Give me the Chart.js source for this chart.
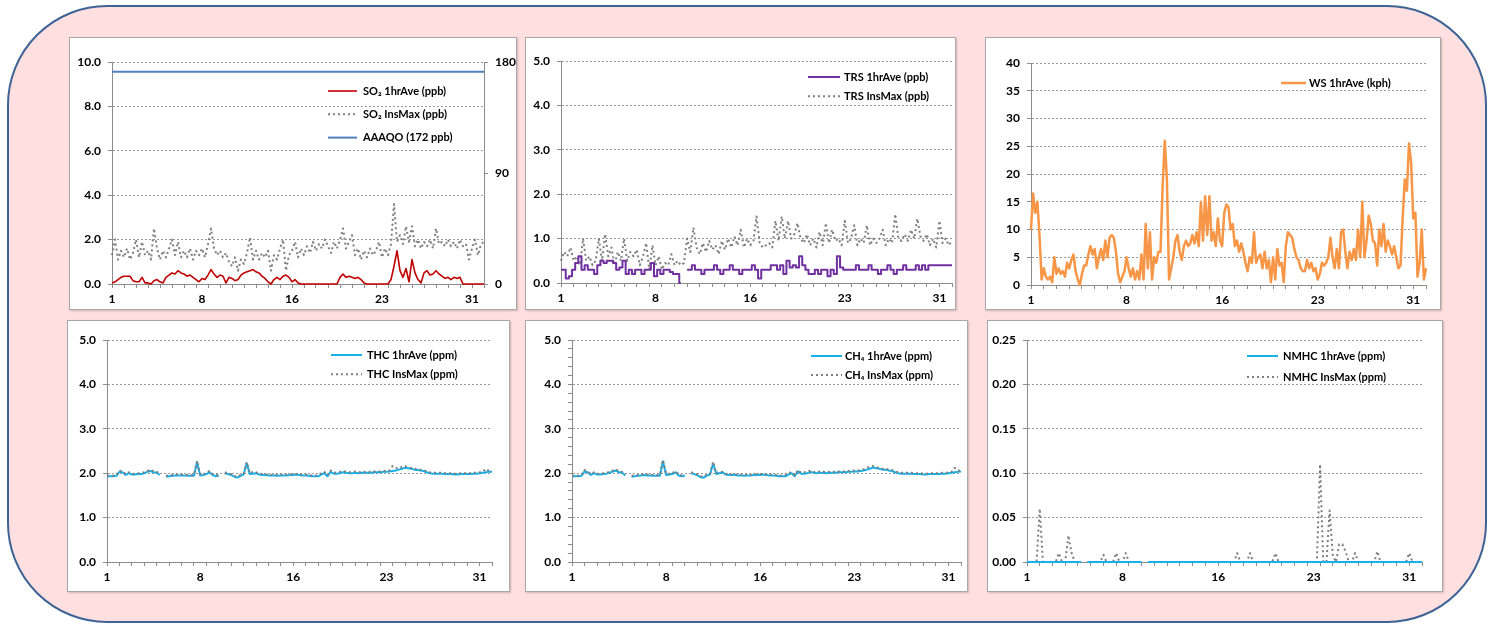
<!DOCTYPE html>
<html>
<head>
<meta charset="utf-8">
<script src="https://cdn.jsdelivr.net/npm/chart.js@4.4.1/dist/chart.umd.min.js"></script>
<style>
html, body { margin: 0; padding: 0; background: #fff; }
body { width: 1497px; height: 625px; position: relative; overflow: hidden; }
.frame { position: absolute; left: 7px; top: 5px; width: 1480px; height: 618px; box-sizing: border-box;
         border: 2.5px solid #3d6396; border-radius: 100px; background: #ffdfdf; }
.panel { position: absolute; background: #fff; border: 1px solid #a8a8a8; box-sizing: border-box;
         box-shadow: 1px 1px 2px rgba(0,0,0,0.2); }
.panel canvas { position: absolute; left: -1px; top: -1px; }
</style>
</head>
<body>
<div class="frame"></div>
<script>
// month of hourly data, day 1 at hour 0
const HOURS = 744;
const xLabelHours = [0, 180, 360, 540, 720];
const xLabels = ['1', '8', '16', '23', '31'];

// values every 6 h (4 per day) unless noted
const so2Ave = [
  0.05, 0.1, 0.2, 0.3,   0.35, 0.35, 0.35, 0.15,   0.1, 0.1, 0.3, 0.05,   0.05, 0, 0.15, 0.2,
  0.1, 0.05, 0.3, 0.4,   0.5, 0.45, 0.6, 0.5,      0.45, 0.35, 0.4, 0.3,  0.2, 0.1, 0.25, 0.2,
  0.4, 0.65, 0.45, 0.3,  0.4, 0.35, 0.05, 0.3,     0.25, 0.15, 0.2, 0.4,  0.5, 0.55, 0.6, 0.65,
  0.55, 0.5, 0.35, 0.25, 0.1, 0, 0.2, 0.3,         0.2, 0.35, 0.4, 0.3,   0.1, 0.2, 0.05, 0,
  0, 0, 0, 0,            0, 0, 0, 0,               0, 0, 0, 0,            0.3, 0.45, 0.3, 0.35,
  0.3, 0.25, 0.3, 0.2,   0.05, 0, 0, 0,            0, 0, 0, 0,            0, 0.2, 0.8, 1.5,
  0.6, 0.3, 0.7, 0.1,    1.1, 0.5, 0.2, 0.05,      0.5, 0.6, 0.4, 0.45,   0.6, 0.45, 0.35, 0.25,
  0.3, 0.2, 0.3, 0.25,   0.3, 0, 0, 0,             0, 0, 0, 0,            0
];
const so2Max = [
  1.3, 2.0, 1.1, 1.5,  1.2, 1.6, 1.1, 1.4,  2.0, 1.2, 1.9, 1.3,  1.5, 1.1, 2.5, 1.6,
  1.1, 1.5, 1.2, 1.6,  2.0, 1.3, 1.9, 1.2,  1.5, 1.2, 1.6, 1.1,  1.5, 1.3, 1.6, 1.2,
  1.8, 2.5, 1.6, 1.3,  1.5, 1.2, 1.4, 1.0,  0.8, 1.2, 0.6, 1.1,  0.9, 1.4, 2.1, 1.1,
  1.5, 1.1, 1.4, 1.2,  1.5, 0.6, 1.3, 1.1,  1.6, 2.0, 0.6, 1.3,  1.5, 1.9, 1.2, 1.6,
  1.3, 1.7, 1.4, 1.9,  1.5, 1.8, 1.6, 2.0,  1.7, 1.4, 1.9, 1.6,  2.0, 2.5, 1.6, 1.9,
  2.2, 1.3, 1.6, 1.1,  1.5, 1.2, 1.6, 1.3,  1.5, 1.9, 1.2, 1.6,  1.3, 1.8, 3.6, 1.9,
  2.2, 1.8, 2.6, 1.9,  2.6, 1.7, 2.0, 1.6,  1.9, 1.7, 2.0, 1.6,  2.5, 1.8, 1.9, 1.7,
  2.0, 1.7, 1.9, 1.6,  2.0, 1.7, 1.8, 1.1,  1.6, 2.0, 1.3, 1.8,  1.9
];
const aaaqoLimit = [172, 172]; // start and end of month

const trsAve = [
  0.3, 0.3, 0.1, 0.15,  0.3, 0.45, 0.6, 0.3,  0.4, 0.3, 0.3, 0.2,   0.4, 0.5, 0.45, 0.5,
  0.5, 0.45, 0.3, 0.35, 0.5, 0.2, 0.3, 0.2,   0.3, 0.3, 0.2, 0.3,   0.3, 0.45, 0.15, 0.3,
  0.2, 0.3, 0.3, 0.25,  0.2, 0.2, 0.0, null,  0.3, 0.3, 0.4, 0.3,   0.3, 0.2, 0.3, 0.3,
  0.3, 0.4, 0.3, 0.2,   0.3, 0.3, 0.4, 0.3,   0.3, 0.2, 0.3, 0.3,   0.3, 0.4, 0.3, 0.1,
  0.3, 0.3, 0.3, 0.4,   0.4, 0.3, 0.4, 0.2,   0.5, 0.35, 0.4, 0.35, 0.6, 0.4, 0.3, 0.2,
  0.2, 0.3, 0.2, 0.3,   0.3, 0.15, 0.3, 0.2,  0.6, 0.35, 0.3, 0.3,  0.3, 0.3, 0.4, 0.3,
  0.3, 0.3, 0.4, 0.3,   0.3, 0.2, 0.3, 0.3,   0.4, 0.3, 0.2, 0.3,   0.3, 0.4, 0.3, 0.3,
  0.3, 0.4, 0.3, 0.4,   0.3, 0.4, 0.4, 0.4,   0.4, 0.4, 0.4, 0.4,   0.4
];
const trsMax = [
  0.5, 0.7, 0.6, 0.8,    0.5, 0.6, 0.4, 1.0,    0.5, 0.6, 0.4, 0.5,    1.0, 0.5, 1.1, 0.6,
  0.8, 0.4, 0.7, 0.5,    1.0, 0.5, 0.7, 0.6,    0.75, 0.4, 0.6, 0.9,   0.3, 0.85, 0.4, 0.6,
  0.3, 0.45, 0.4, 0.65,  0.4, 0.5, 0.4, 0.45,   1.0, 0.7, 1.25, 0.8,   0.65, 0.9, 0.7, 0.95,
  0.75, 0.85, 0.65, 0.95, 0.75, 1.0, 0.8, 1.05, 0.85, 1.2, 0.8, 1.0,   0.85, 0.95, 1.5, 0.9,
  0.8, 0.85, 0.9, 0.8,   1.4, 0.95, 1.5, 1.0,   1.4, 1.0, 1.1, 1.35,   1.0, 0.9, 1.1, 0.85,
  1.0, 0.8, 1.15, 0.85,  1.35, 0.9, 1.2, 0.95,  1.0, 0.85, 1.4, 0.9,   1.0, 1.3, 0.85, 1.0,
  0.9, 1.3, 0.85, 1.0,   0.9, 1.0, 1.2, 0.85,   1.0, 0.9, 1.55, 1.0,   0.95, 1.1, 0.95, 1.2,
  1.0, 1.45, 1.05, 0.95, 1.1, 0.85, 1.0, 0.8,   1.4, 0.9, 1.0, 0.85,   0.95
];

// wind speed every 4 h (6 per day)
const wsAve = [
  10, 16.5, 13, 15, 9, 1,      3, 1.5, 1, 1.5, 0.5, 5,     2, 3, 2, 2.5, 1.5, 4,
  3, 4.5, 5.5, 2.5, 1, 0,      2, 3.5, 3.5, 5.5, 7, 5.5,   6.5, 3, 5, 6.5, 4.5, 8,
  5, 8.5, 9, 8.5, 6, 2,        0.5, 1.5, 2.5, 5, 3, 1.5,   3, 1, 2.5, 1, 5.5, 1,
  11, 3, 9.5, 1, 5, 4,         6, 6, 18, 26, 19, 1,        3, 5, 8, 9, 6, 4.5,
  7, 8, 7, 7.5, 9, 7.5,        9.5, 7, 15, 8, 16, 9,       16, 8, 9.5, 7, 12, 8,
  7, 13, 14.5, 14, 10, 11,     7, 8, 6, 7.5, 6, 4,         2.5, 5, 4, 9.5, 4, 5,
  5.5, 3, 6, 3, 4.5, 0.5,      5, 1, 6.5, 3.5, 4, 0.5,     7, 9.5, 9, 8.5, 6.5, 5,
  4.5, 3, 2.5, 2.5, 4.5, 3,    4, 2.5, 3, 1, 2, 4,         3.5, 4, 5, 8.5, 5, 3,
  6.5, 3, 9.5, 10, 6, 3,       6, 4.5, 6.5, 4.5, 10, 5,    15, 5, 8, 12.5, 11, 8,
  7.5, 3.5, 10, 7, 11, 6,      8, 7, 5.5, 7, 5, 3,         3.5, 12, 19, 17, 25.5, 22,
  12, 13, 1.5, 4, 10, 1,       3
];

const thcAve = [
  1.93, 1.93, 1.93, 1.94,  2.03, 2.02, 1.96, 2.0,   1.97, 1.97, 1.98, 1.98,  2.0, 2.03, 2.05, 2.02,
  2.01, 1.96, null, 1.92,  1.93, 1.94, 1.95, 1.95,  1.95, 1.95, 1.94, 1.94,  1.94, 2.25, 1.95, 1.96,
  1.98, 2.02, 1.96, 1.93,  1.95, null, 2.0, 1.98,   1.96, 1.92, 1.9, 1.94,   1.97, 2.22, 1.98, 1.99,
  2.0, 1.97, 1.96, 1.96,   1.95, 1.95, 1.95, 1.94,  1.95, 1.95, 1.95, 1.96,  1.96, 1.97, 1.96, 1.95,
  1.95, 1.94, 1.93, 1.93,  1.93, 1.97, 2.0, 1.93,   2.03, 1.99, 1.99, 2.0,   2.02, 2.01, 2.0, 2.0,
  2.01, 2.0, 2.01, 2.01,   2.01, 2.01, 2.02, 2.02,  2.02, 2.03, 2.03, 2.04,  2.05, 2.06, 2.08, 2.1,
  2.12, 2.11, 2.1, 2.08,   2.07, 2.06, 2.05, 2.02,  2.0, 1.99, 1.99, 1.99,   1.99, 1.98, 1.98, 1.98,
  1.97, 1.97, 1.98, 1.98,  1.98, 1.98, 1.99, 1.99,  2.0, 2.01, 2.02, 2.03,   2.03
];
const thcMax = [
  1.94, 1.95, 1.94, 1.96,  2.06, 2.04, 1.98, 2.02,  1.99, 1.99, 2.0, 2.0,   2.02, 2.05, 2.08, 2.04,
  2.03, 1.98, null, 1.94,  1.95, 1.96, 1.97, 1.97,  1.97, 1.96, 1.96, 1.96,  1.96, 2.28, 1.97, 1.98,
  2.0, 2.05, 1.98, 1.95,   1.97, null, 2.02, 2.0,   1.98, 1.94, 1.92, 1.96,  1.99, 2.25, 2.0, 2.03,
  2.02, 1.99, 1.98, 1.97,  1.97, 1.96, 1.97, 1.96,  1.97, 1.96, 1.97, 1.97,  1.98, 1.98, 1.97, 1.97,
  1.97, 1.96, 1.95, 1.95,  1.95, 2.0, 2.03, 1.95,   2.06, 2.01, 2.02, 2.03,  2.05, 2.03, 2.02, 2.03,
  2.04, 2.02, 2.03, 2.03,  2.03, 2.03, 2.04, 2.04,  2.04, 2.05, 2.05, 2.06,  2.16, 2.12, 2.1, 2.14,
  2.16, 2.13, 2.12, 2.1,   2.09, 2.08, 2.07, 2.04,  2.02, 2.01, 2.01, 2.01,  2.01, 2.0, 2.0, 2.0,
  1.99, 1.99, 2.0, 2.0,    2.0, 2.0, 2.01, 2.01,    2.02, 2.03, 2.1, 2.05,   2.05
];

const ch4Ave = [
  1.93, 1.93, 1.93, 1.94,  2.04, 2.02, 1.96, 2.0,   1.97, 1.97, 1.98, 1.99,  2.01, 2.04, 2.06, 2.02,
  2.01, 1.95, null, 1.92,  1.93, 1.94, 1.95, 1.96,  1.95, 1.95, 1.94, 1.94,  1.94, 2.27, 1.96, 1.97,
  1.98, 2.02, 1.95, 1.93,  1.95, null, 2.0, 1.98,   1.95, 1.91, 1.9, 1.95,   1.97, 2.22, 1.98, 2.0,
  2.02, 1.97, 1.96, 1.96,  1.96, 1.95, 1.95, 1.94,  1.95, 1.95, 1.96, 1.96,  1.96, 1.97, 1.96, 1.95,
  1.95, 1.94, 1.93, 1.93,  1.93, 1.97, 2.0, 1.93,   2.04, 1.99, 1.99, 2.0,   2.03, 2.01, 2.0, 2.01,
  2.01, 2.0, 2.01, 2.01,   2.01, 2.02, 2.02, 2.02,  2.03, 2.03, 2.04, 2.04,  2.05, 2.06, 2.08, 2.1,
  2.13, 2.11, 2.1, 2.08,   2.08, 2.06, 2.05, 2.02,  2.0, 1.99, 1.99, 1.99,   1.99, 1.98, 1.98, 1.98,
  1.97, 1.97, 1.98, 1.98,  1.98, 1.98, 1.99, 1.99,  2.0, 2.01, 2.02, 2.03,   2.04
];
const ch4Max = [
  1.94, 1.95, 1.94, 1.96,  2.07, 2.04, 1.98, 2.02,  1.99, 1.99, 2.0, 2.01,  2.03, 2.06, 2.09, 2.04,
  2.03, 1.97, null, 1.94,  1.95, 1.96, 1.97, 1.98,  1.97, 1.96, 1.96, 1.96,  1.96, 2.3, 1.98, 1.99,
  2.0, 2.05, 1.97, 1.95,   1.97, null, 2.02, 2.0,   1.97, 1.93, 1.92, 1.97,  1.99, 2.26, 2.0, 2.04,
  2.03, 1.99, 1.98, 1.97,  1.98, 1.96, 1.97, 1.96,  1.97, 1.96, 1.98, 1.97,  1.98, 1.98, 1.97, 1.97,
  1.97, 1.96, 1.95, 1.95,  1.96, 2.01, 2.02, 1.95,  2.07, 2.01, 2.02, 2.03,  2.06, 2.03, 2.02, 2.04,
  2.04, 2.02, 2.03, 2.03,  2.03, 2.04, 2.04, 2.04,  2.05, 2.05, 2.06, 2.06,  2.07, 2.09, 2.12, 2.15,
  2.16, 2.13, 2.12, 2.1,   2.1, 2.08, 2.07, 2.04,   2.02, 2.01, 2.01, 2.01,  2.01, 2.0, 2.0, 2.0,
  1.99, 1.99, 2.0, 2.0,    2.0, 2.0, 2.01, 2.01,    2.02, 2.03, 2.12, 2.06,  2.05
];

const nmhcAve = [
  0, 0, 0, 0,  0, 0, 0, 0,  0, 0, 0, 0,  0, 0, 0, 0,  0, 0, null, 0,  0, 0, 0, 0,  0, 0, 0, 0,  0, 0, 0, 0,
  0, 0, 0, 0,  0, null, 0, 0,  0, 0, 0, 0,  0, 0, 0, 0,  0, 0, 0, 0,  0, 0, 0, 0,  0, 0, 0, 0,  0, 0, 0, 0,
  0, 0, 0, 0,  0, 0, 0, 0,  0, 0, 0, 0,  0, 0, 0, 0,  0, 0, 0, 0,  0, 0, 0, 0,  0, 0, 0, 0,  0, 0, 0, 0,
  0, 0, 0, 0,  0, 0, 0, 0,  0, 0, 0, 0,  0, 0, 0, 0,  0, 0, 0, 0,  0, 0, 0, 0,  0, 0, 0, 0,  0
];
const nmhcMax = [
  0, 0, 0, 0,  0.06, 0, 0, 0,  0, 0, 0.01, 0,  0, 0.03, 0.01, 0,  0, 0, null, 0,  0, 0, 0, 0,  0.008, 0, 0, 0,  0.01, 0, 0, 0.01,
  0, 0, 0, 0,  0, null, 0, 0,  0, 0, 0, 0,  0, 0, 0, 0,  0, 0, 0, 0,  0, 0, 0, 0,  0, 0, 0, 0,  0, 0, 0, 0,
  0, 0, 0.01, 0,  0, 0, 0.01, 0,  0, 0, 0, 0,  0, 0, 0.01, 0,  0, 0, 0, 0,  0, 0, 0, 0,  0, 0, 0, 0,  0.11, 0, 0, 0.058,
  0.008, 0, 0.02, 0.02,  0.012, 0, 0, 0.01,  0, 0, 0, 0,  0, 0, 0.012, 0,  0, 0, 0, 0,  0, 0, 0, 0,  0.01, 0, 0, 0,  0
];

const AXIS = '#8c8c8c';
const GRID = '#9a9a9a';
const FONT = 'Lato, "Open Sans", sans-serif';
const TICK_FONT = { family: FONT, size: 12, weight: 'bold' };
const DOTS = [2, 3];

const toPoints = (values, stepHours) => values.map((v, i) => ({ x: i * stepHours, y: v }));

let xTickHours = [];
for (let h = 0; h <= HOURS; h += 24) xTickHours.push(h);
xTickHours = xTickHours.concat(xLabelHours.filter(h => h % 24 !== 0)).sort((a, b) => a - b);

const legendPlugin = {
  id: 'panelLegend',
  afterDraw(chart, args, opts) {
    const ctx = chart.ctx;
    opts.items.forEach((idx, row) => {
      const ds = chart.data.datasets[idx];
      const y = opts.y + row * (opts.gap || 0);
      ctx.save();
      ctx.strokeStyle = ds.borderColor;
      ctx.lineWidth = ds.borderWidth;
      ctx.setLineDash(ds.borderDash || []);
      ctx.beginPath();
      ctx.moveTo(opts.x, y);
      ctx.lineTo(opts.x + opts.len, y);
      ctx.stroke();
      ctx.setLineDash([]);
      ctx.fillStyle = '#000';
      ctx.font = 'bold 11px ' + FONT;
      ctx.textBaseline = 'middle';
      ctx.fillText(ds.label, opts.x + opts.len + opts.textGap, y);
      ctx.restore();
    });
  }
};

function isMajor(v, step) {
  const r = v / step;
  return Math.abs(r - Math.round(r)) < 1e-6;
}

function makeChart(cfg) {
  const [left, top, w, h] = cfg.box;
  const panel = document.createElement('div');
  panel.className = 'panel';
  panel.style.left = left + 'px';
  panel.style.top = top + 'px';
  panel.style.width = w + 'px';
  panel.style.height = h + 'px';
  const canvas = document.createElement('canvas');
  canvas.width = w;
  canvas.height = h;
  panel.appendChild(canvas);
  document.body.appendChild(panel);

  const scales = {
    x: {
      type: 'linear', min: 0, max: HOURS,
      afterBuildTicks: s => { s.ticks = xTickHours.map(v => ({ value: v })); },
      afterFit: s => { s.height = cfg.plot.bottom; },
      grid: {
        drawOnChartArea: false, tickLength: 4,
        tickColor: c => (c.tick && c.tick.value % 24 === 0) ? AXIS : 'transparent'
      },
      border: { color: AXIS, width: 1 },
      ticks: {
        autoSkip: false, maxRotation: 0, padding: 4, color: '#000', font: TICK_FONT,
        callback: v => { const i = xLabelHours.indexOf(v); return i >= 0 ? xLabels[i] : ''; }
      }
    },
    y: {
      position: 'left', min: 0, max: cfg.yMax,
      afterBuildTicks: s => {
        const step = cfg.yMinor || cfg.yStep;
        const t = [];
        for (let k = 0; k <= Math.round(cfg.yMax / step); k++) t.push({ value: +(k * step).toFixed(4) });
        s.ticks = t;
      },
      afterFit: s => { s.width = cfg.plot.left; },
      grid: {
        color: c => (c.tick && isMajor(c.tick.value, cfg.yStep)) ? GRID : 'transparent',
        tickColor: AXIS, tickLength: 4, lineWidth: 1
      },
      border: { color: AXIS, width: 1, dash: [2, 2] },
      ticks: {
        autoSkip: false, padding: 7, color: '#000', font: TICK_FONT,
        callback: v => isMajor(v, cfg.yStep) ? v.toFixed(cfg.yDec) : ''
      }
    }
  };
  if (cfg.y2) {
    scales.y2 = {
      position: 'right', min: 0, max: cfg.y2.max,
      afterBuildTicks: s => { s.ticks = cfg.y2.ticks.map(v => ({ value: v })); },
      afterFit: s => { s.width = cfg.plot.right; },
      grid: { drawOnChartArea: false, tickColor: AXIS, tickLength: 4 },
      border: { color: AXIS, width: 1 },
      ticks: { autoSkip: false, padding: 7, color: '#000', font: TICK_FONT, callback: v => String(v) }
    };
  }

  return new Chart(canvas, {
    type: 'line',
    data: { datasets: cfg.datasets },
    options: {
      responsive: false, animation: false, events: [],
      layout: { padding: { left: 0, top: cfg.plot.top, right: cfg.y2 ? 0 : cfg.plot.right, bottom: 0 } },
      elements: { point: { radius: 0 }, line: { tension: 0, borderJoinStyle: 'round' } },
      plugins: { legend: { display: false }, tooltip: { enabled: false }, panelLegend: cfg.legend },
      scales: scales
    },
    plugins: [legendPlugin]
  });
}

const solid = (label, values, step, color, width, order, extra) => Object.assign({
  label, data: toPoints(values, step), borderColor: color, borderWidth: width,
  fill: false, order, yAxisID: 'y', clip: false
}, extra || {});
const dotted = (label, values, step, order) => ({
  label, data: toPoints(values, step), borderColor: '#7f7f7f', borderWidth: 2,
  borderDash: DOTS, fill: false, order, yAxisID: 'y', clip: false
});

makeChart({
  box: [69, 37, 448, 273], plot: { left: 43, top: 25, right: 33, bottom: 26 },
  yMax: 10, yStep: 2, yDec: 1, y2: { max: 180, ticks: [0, 90, 180] },
  datasets: [
    solid('SO\u2082 1hrAve (ppb)', so2Ave, 6, '#c00000', 1.6, 0),
    dotted('SO\u2082 InsMax (ppb)', so2Max, 6, 1),
    solid('AAAQO (172 ppb)', aaaqoLimit, HOURS, '#4f81bd', 2, 2, { yAxisID: 'y2' })
  ],
  legend: { items: [0, 1, 2], x: 259, y: 54, gap: 23.3, len: 29, textGap: 6 }
});

makeChart({
  box: [525, 37, 431, 273], plot: { left: 36, top: 24, right: 4, bottom: 27 },
  yMax: 5, yStep: 1, yDec: 1,
  datasets: [
    solid('TRS 1hrAve (ppb)', trsAve, 6, '#7030a0', 2, 0, { stepped: 'middle' }),
    dotted('TRS InsMax (ppb)', trsMax, 6, 1)
  ],
  legend: { items: [0, 1], x: 283, y: 40, gap: 19.3, len: 32, textGap: 4 }
});

makeChart({
  box: [985, 37, 456, 273], plot: { left: 46, top: 26, right: 15, bottom: 25 },
  yMax: 40, yStep: 5, yDec: 0,
  datasets: [
    solid('WS 1hrAve (kph)', wsAve, 4, '#f79646', 2.5, 0)
  ],
  legend: { items: [0], x: 296, y: 46, len: 25, textGap: 3 }
});

makeChart({
  box: [67, 320, 443, 272], plot: { left: 40, top: 20, right: 18, bottom: 30 },
  yMax: 5, yStep: 1, yDec: 1,
  datasets: [
    solid('THC 1hrAve (ppm)', thcAve, 6, '#17b0e8', 2, 1),
    dotted('THC InsMax (ppm)', thcMax, 6, 0)
  ],
  legend: { items: [0, 1], x: 264, y: 35, gap: 19.3, len: 31, textGap: 5 }
});

makeChart({
  box: [525, 320, 443, 272], plot: { left: 47, top: 20, right: 7, bottom: 30 },
  yMax: 5, yStep: 1, yMinor: 0.2, yDec: 1,
  datasets: [
    solid('CH\u2084 1hrAve (ppm)', ch4Ave, 6, '#17b0e8', 2, 1),
    dotted('CH\u2084 InsMax (ppm)', ch4Max, 6, 0)
  ],
  legend: { items: [0, 1], x: 286, y: 36, gap: 19, len: 31, textGap: 3 }
});

makeChart({
  box: [987, 320, 456, 272], plot: { left: 40, top: 20, right: 21, bottom: 30 },
  yMax: 0.25, yStep: 0.05, yDec: 2,
  datasets: [
    solid('NMHC 1hrAve (ppm)', nmhcAve, 6, '#17b0e8', 2, 0),
    dotted('NMHC InsMax (ppm)', nmhcMax, 6, 1)
  ],
  legend: { items: [0, 1], x: 260, y: 36, gap: 21, len: 31, textGap: 5 }
});
</script>
</body>
</html>
